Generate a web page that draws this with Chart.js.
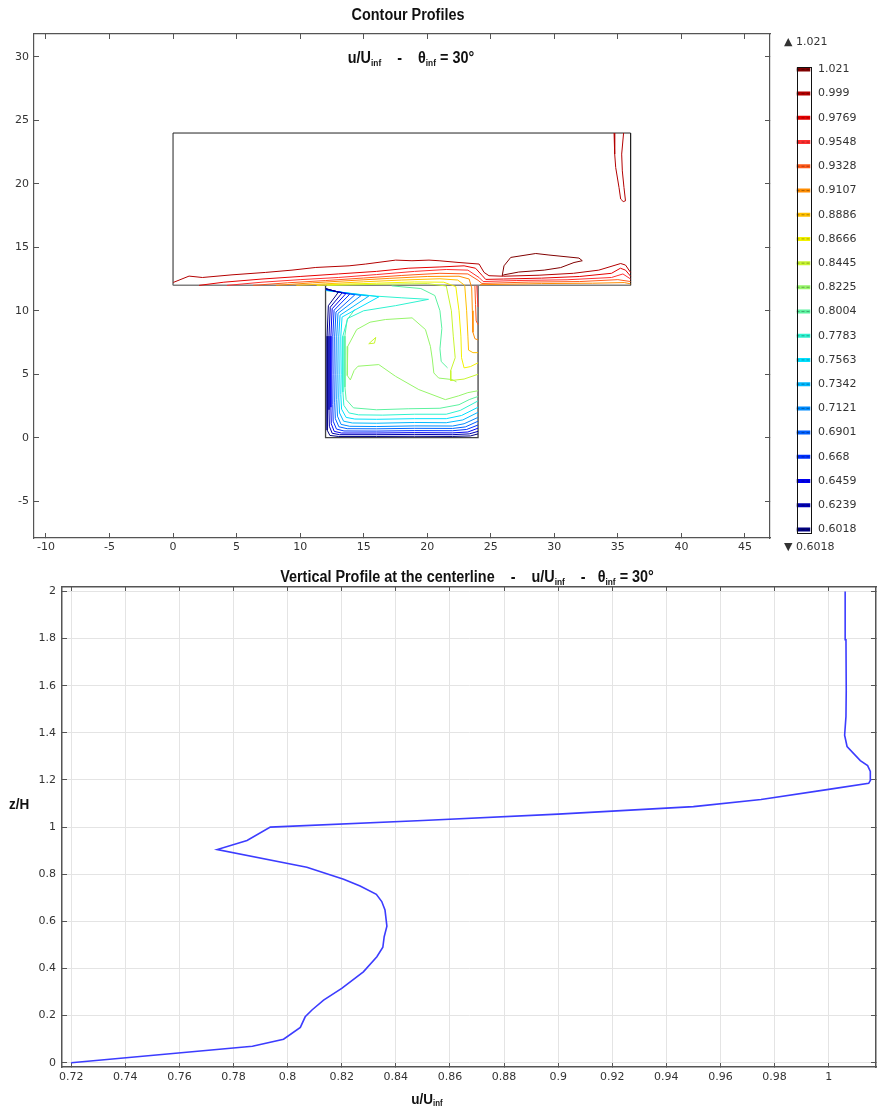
<!DOCTYPE html>
<html>
<head>
<meta charset="utf-8">
<script src="https://cdn.jsdelivr.net/npm/chart.js@4.4.1/dist/chart.umd.min.js"></script>
<style>
  html, body { margin: 0; padding: 0; background: #fff; }
  #page { position: relative; width: 877px; height: 1108px; overflow: hidden; background: #fff; }
  canvas { position: absolute; }
  .ttl { position: absolute; white-space: nowrap; color: #111; font-family: "Liberation Sans", Arial, sans-serif;
         font-weight: bold; line-height: 1; transform: translate(-50%, -50%) scaleX(0.9); }
  .ttl sub { font-size: 58%; vertical-align: baseline; position: relative; top: 0.28em; }
  .cb { position: absolute; white-space: nowrap; font-family: "DejaVu Sans", sans-serif; font-size: 11px;
        color: #333; line-height: 1; transform: translateY(-50%); }
</style>
</head>
<body>
<div id="page">
  <canvas id="contour" width="775" height="560" style="left:0;top:0"></canvas>
  <canvas id="legend" width="101" height="530" style="left:776px;top:30px"></canvas>
  <canvas id="profile" width="877" height="548" style="left:0;top:560px"></canvas>

  <div class="ttl" style="left:408px;top:15px;font-size:16px">Contour Profiles</div>
  <div class="ttl" style="left:411px;top:58px;font-size:16px">u/U<sub>inf</sub>&nbsp;&nbsp;&nbsp;&nbsp;-&nbsp;&nbsp;&nbsp;&nbsp;θ<sub>inf</sub> = 30°</div>
  <div class="cb" style="left:784px;top:41px">▲ 1.021</div>
  <div class="cb" style="left:784px;top:546px">▼ 0.6018</div>
  <div class="ttl" style="left:467px;top:577px;font-size:16px">Vertical Profile at the centerline&nbsp;&nbsp;&nbsp;&nbsp;-&nbsp;&nbsp;&nbsp;&nbsp;u/U<sub>inf</sub>&nbsp;&nbsp;&nbsp;&nbsp;-&nbsp;&nbsp;&nbsp;θ<sub>inf</sub> = 30°</div>
  <div class="ttl" style="left:19px;top:803px;font-size:15px">z/H</div>
  <div class="ttl" style="left:427px;top:1098px;font-size:15px">u/U<sub>inf</sub></div>
</div>

<script>
// ---------- contour levels (colour bar) ----------
const levelValues = [1.021, 0.999, 0.9769, 0.9548, 0.9328, 0.9107, 0.8886, 0.8666, 0.8445, 0.8225,
                     0.8004, 0.7783, 0.7563, 0.7342, 0.7121, 0.6901, 0.668, 0.6459, 0.6239, 0.6018];
const levelLabels = ['1.021', '0.999', '0.9769', '0.9548', '0.9328', '0.9107', '0.8886', '0.8666', '0.8445', '0.8225',
                     '0.8004', '0.7783', '0.7563', '0.7342', '0.7121', '0.6901', '0.668', '0.6459', '0.6239', '0.6018'];

// ---------- contour plot axes ----------
const xTicks = [-10, -5, 0, 5, 10, 15, 20, 25, 30, 35, 40, 45];
const xTickLabels = ['-10', '-5', '0', '5', '10', '15', '20', '25', '30', '35', '40', '45'];
const yTicks = [-5, 0, 5, 10, 15, 20, 25, 30];
const yTickLabels = ['-5', '0', '5', '10', '15', '20', '25', '30'];

// ---------- domain geometry (x, y) ----------
const upperBlock = [[0, 12], [0, 24], [36, 24], [36, 12]];
const cavityWalls = [[12, 12], [12, 0], [24, 0], [24, 12]];
const openingLine = [[0, 12], [36, 12]];

// ---------- contour lines above the cavity (x, y) ----------
const upTop999 = [[0.02,12.23],[1.26,12.73],[2.31,12.62],[4.64,12.83],[7.29,13.02],[9.36,13.2],[11.23,13.41],[13.85,13.54],
  [15.16,13.68],[17.52,13.99],[18.8,13.94],[20.14,13.99],[20.93,13.94],[22.5,13.8],[24.08,13.68],[24.47,13.02],[24.86,12.76],
  [26.0,12.72],[28.8,12.8],[31.5,12.95],[33.5,13.2],[35.22,13.72],[35.6,13.6],[36.0,13.02]];
const up9769 = [[2.05,12.0],[4.0,12.25],[7.0,12.5],[10,12.7],[13,12.9],[16,13.1],[18.5,13.35],[21,13.45],[22.9,13.54],
  [23.8,13.35],[24.3,12.8],[24.6,12.47],[26,12.5],[29,12.57],[32,12.7],[34.5,12.95],[35.2,13.35],[35.6,13.2],[36,12.72]];
const up9548 = [[4.25,12.0],[7,12.25],[10,12.45],[13,12.62],[16,12.85],[19,13.1],[21.5,13.25],[23.2,13.2],[24.1,12.6],
  [24.4,12.3],[27,12.38],[31,12.44],[34.5,12.62],[35.4,12.9],[36,12.5]];
const up9328 = [[6.3,12.0],[9,12.2],[12,12.38],[15,12.58],[18,12.78],[21,12.95],[23.2,12.9],[24.0,12.4],[24.3,12.15],
  [28,12.26],[32,12.3],[35,12.45],[36,12.3]];
const up9107 = [[8.1,12.0],[11,12.2],[14,12.38],[17,12.55],[20,12.7],[22.5,12.72],[23.3,12.5],[23.5,11.8],[23.55,10.0],
  [23.6,8.3],[23.75,7.8],[24,7.7]];
const up9107b = [[24.15,12.05],[29,12.14],[33,12.17],[35.5,12.22],[36,12.12]];
const up8886 = [[9.7,12.0],[12,12.12],[15,12.28],[18,12.42],[21,12.52],[22.4,12.42],[22.95,12.0],[23.1,10.0],[23.2,8.0],
  [23.25,6.9],[23.6,6.7],[24,6.7]];
const up8666 = [[11.3,12.0],[13,12.08],[16,12.17],[19,12.27],[21.3,12.25],[22.25,11.9],[22.5,10.0],[22.65,8.0],[22.7,6.3],
  [22.9,5.5],[23.4,5.6],[24,5.9]];
const up8445 = [[12.1,11.99],[14,12.04],[17,12.1],[20,12.14],[21.5,11.95],[21.9,10.0],[22.05,8.0],[22.2,6.3],[21.85,5.3],
  [21.85,4.5],[22.9,4.62],[24,5.0]];
const eddyLoop = [[25.9,12.76],[26.04,13.54],[26.57,14.2],[28.54,14.51],[29.58,14.39],[31.94,14.15],[32.2,13.94],[31.55,13.8],
  [30.5,13.4],[29.2,13.2],[27.2,13.05],[26.04,12.83],[25.9,12.76]];
const rightWallLoop = [[34.7,24.0],[34.75,22.34],[34.83,21.28],[35.09,19.71],[35.22,18.8],[35.42,18.6],[35.6,18.66],
  [35.48,19.71],[35.35,21.02],[35.3,22.34],[35.45,24.0]];

// ---------- contour lines inside the cavity (x, y) ----------
const cav6018 = [[12.03,11.75],[13.0,11.45],[12.22,10.4],[12.12,8.0],[12.12,5.0],[12.12,2.0],[12.14,0.6],[12.34,0.18],
  [13.0,0.1],[16.0,0.1],[19.0,0.11],[22.0,0.1],[23.4,0.14],[24.0,0.3]];
const cav6239 = [[12.03,11.73],[13.3,11.4],[12.37,10.28],[12.27,8.0],[12.27,5.0],[12.27,2.2],[12.3,0.9],[12.52,0.35],
  [13.1,0.24],[16.0,0.24],[19.0,0.26],[22.0,0.24],[23.3,0.3],[24.0,0.5]];
const cav6459 = [[12.03,11.71],[13.6,11.35],[12.52,10.16],[12.42,8.0],[12.42,5.0],[12.42,2.4],[12.45,1.1],[12.68,0.5],
  [13.25,0.37],[16.0,0.37],[19.0,0.4],[22.0,0.38],[23.2,0.45],[24.0,0.75]];
const cav668 = [[12.03,11.69],[13.9,11.3],[12.67,10.04],[12.57,8.0],[12.59,5.0],[12.57,2.6],[12.6,1.3],[12.86,0.68],
  [13.45,0.53],[16.0,0.52],[19.0,0.56],[22.0,0.55],[23.1,0.65],[24.0,1.0]];
const cav6901 = [[12.03,11.67],[14.3,11.25],[12.82,9.9],[12.72,8.0],[12.75,5.0],[12.72,2.8],[12.77,1.5],[13.05,0.86],
  [13.7,0.71],[16.0,0.7],[19.0,0.74],[22.0,0.73],[23.0,0.85],[24.0,1.3]];
const cav7121 = [[12.03,11.65],[14.8,11.2],[12.98,9.8],[12.88,8.0],[12.91,5.0],[12.88,3.0],[12.94,1.7],[13.22,1.05],
  [13.9,0.9],[16.0,0.88],[19.0,0.93],[22.0,0.92],[22.9,1.1],[24.0,1.6]];
const cav7342 = [[12.03,11.63],[15.4,11.15],[13.14,9.65],[13.04,8.0],[13.07,5.0],[13.04,3.2],[13.1,1.95],[13.42,1.3],
  [14.1,1.16],[16.0,1.14],[19.0,1.2],[21.5,1.18],[22.8,1.4],[24.0,2.0]];
const cav7563 = [[12.03,11.61],[16.2,11.1],[13.3,9.5],[13.2,8.0],[13.23,5.0],[13.2,3.4],[13.26,2.25],[13.62,1.6],
  [14.3,1.47],[16.0,1.45],[19.0,1.5],[21.5,1.5],[22.7,1.75],[24.0,2.4]];
const cav7783 = [[12.03,11.59],[14.0,11.35],[16.0,11.15],[18.0,11.02],[20.1,10.9],[17.5,10.4],[15.0,10.0],[13.75,9.4],
  [13.36,8.0],[13.37,5.0],[13.36,3.6],[13.44,2.55],[13.85,1.95],[14.6,1.8],[16.5,1.78],[19.0,1.85],[21.5,1.85],[22.6,2.15],[24.0,2.9]];
const cav8004 = [[14.3,10.1],[13.7,9.3],[13.52,8.0],[13.53,6.0],[13.52,4.0],[13.62,3.0],[14.2,2.35],[16,2.2],[18.5,2.28],
  [21,2.32],[22.5,2.6],[23.3,3.0],[24,3.25]];
const cav8004b = [[17.2,11.96],[19.5,11.75],[20.6,11.2],[21.0,10.0],[21.15,8.6],[21.0,7.0],[21.1,6.0],[21.6,5.5]];
const cav8225 = [[22.3,4.4],[21.96,4.58],[20.9,4.7],[20.52,5.1],[20.4,6.2],[20.25,7.2],[19.86,8.52],[18.81,9.44],[16.72,9.31],
  [15.5,9.1],[14.45,8.52],[13.75,7.2],[13.7,5.8],[13.72,4.9],[13.95,4.55],[14.25,5.3],[14.55,5.63],[16.19,5.76],[17.5,4.84],
  [19.34,3.79],[21.43,3.0],[22.48,3.3],[23.2,3.55],[24,3.7]];
const cav8445 = [[15.4,7.4],[15.95,7.9],[15.85,7.45],[15.4,7.4]];
const cav9328 = [[23.75,11.97],[23.8,10.5],[23.85,9.2],[24,8.9]];
const cav9548 = [[23.9,11.98],[23.95,11.0],[24,10.3]];

// line -> level value
const contourLines = [
  [upTop999, 0.999], [up9769, 0.9769], [up9548, 0.9548], [up9328, 0.9328], [up9107, 0.9107], [up9107b, 0.9107],
  [up8886, 0.8886], [up8666, 0.8666], [up8445, 0.8445], [eddyLoop, 1.021], [rightWallLoop, 0.999],
  [cav6018, 0.6018], [cav6239, 0.6239], [cav6459, 0.6459], [cav668, 0.668], [cav6901, 0.6901], [cav7121, 0.7121],
  [cav7342, 0.7342], [cav7563, 0.7563], [cav7783, 0.7783], [cav8004, 0.8004], [cav8004b, 0.8004], [cav8225, 0.8225],
  [cav8445, 0.8445], [cav9328, 0.9328], [cav9548, 0.9548]
];

// ---------- centreline profile ----------
const profileU = [0.72, 0.787, 0.7985, 0.8047, 0.8065, 0.809, 0.8133, 0.820, 0.828, 0.833, 0.8352, 0.8357, 0.8367, 0.836,
  0.8348, 0.8328, 0.8268, 0.8207, 0.8071, 0.774, 0.785, 0.7936, 0.85, 0.9, 0.95, 0.975, 1.0, 1.0148, 1.0155, 1.0154,
  1.0144, 1.0117, 1.0068, 1.0059, 1.0064, 1.0065, 1.0064, 1.0061];
const profileZ = [0, 0.07, 0.1, 0.15, 0.195, 0.224, 0.266, 0.316, 0.386, 0.45, 0.49, 0.535, 0.58, 0.648, 0.684, 0.715,
  0.75, 0.779, 0.83, 0.905, 0.943, 1.0, 1.028, 1.055, 1.087, 1.117, 1.16, 1.186, 1.2, 1.236, 1.261, 1.282, 1.342, 1.39,
  1.47, 1.58, 1.795, 2.0];
const uTicks = [0.72, 0.74, 0.76, 0.78, 0.8, 0.82, 0.84, 0.86, 0.88, 0.9, 0.92, 0.94, 0.96, 0.98, 1];
const uTickLabels = ['0.72', '0.74', '0.76', '0.78', '0.8', '0.82', '0.84', '0.86', '0.88', '0.9', '0.92', '0.94', '0.96', '0.98', '1'];
const zTicks = [0, 0.2, 0.4, 0.6, 0.8, 1, 1.2, 1.4, 1.6, 1.8, 2];
const zTickLabels = ['0', '0.2', '0.4', '0.6', '0.8', '1', '1.2', '1.4', '1.6', '1.8', '2'];

// ---------- styling ----------
const levelColors = ['#800000', '#b30000', '#e60000', '#ff3030', '#ff5a1a', '#ff8c00', '#ffbf00', '#f2f200', '#c8f530', '#96f56a',
                     '#5cf2a0', '#2ef2d0', '#00e0ff', '#00b8ff', '#008cff', '#0060ff', '#0030ff', '#0000f0', '#0000b3', '#000080'];
const colorOf = v => levelColors[levelValues.indexOf(v)];
const tickFont = { family: 'DejaVu Sans', size: 11 };
const tickColor = '#333';
const frameColor = '#555';
const toPts = arr => arr.map(p => ({ x: p[0], y: p[1] }));
const fixedTicks = (vals) => (scale) => { scale.ticks = vals.map(v => ({ value: v })); };

function frameAxis(position, vals, labels, size, opts = {}) {
  return Object.assign({
    type: 'linear', position,
    afterBuildTicks: fixedTicks(vals),
    afterFit: (s) => { if (position === 'left' || position === 'right') s.width = size; else s.height = size; },
    ticks: {
      display: !!labels, autoSkip: false, maxRotation: 0, font: tickFont, color: tickColor,
      padding: opts.padding || 0,
      callback: (v, i) => labels ? labels[i] : ''
    },
    grid: { drawOnChartArea: !!opts.gridColor, color: opts.gridColor || frameColor, tickColor: frameColor,
            tickLength: opts.tickLength || -5, tickWidth: 1, lineWidth: 1 },
    border: { display: true, color: frameColor, width: opts.borderWidth || 1.2 }
  }, opts.range || {});
}

// ---------- contour chart ----------
const contourSets = contourLines.map(([pts, lvl]) => ({
  data: toPts(pts), showLine: true, borderColor: colorOf(lvl), borderWidth: 1, pointRadius: 0, tension: 0, fill: false
}));
contourSets.push(
  { data: toPts(openingLine), showLine: true, borderColor: '#808080', borderWidth: 1.5, pointRadius: 0 },
  { data: toPts(cavityWalls), showLine: true, borderColor: '#444', borderWidth: 1.3, pointRadius: 0 },
  { data: toPts(upperBlock), showLine: true, borderColor: '#222', borderWidth: 1, pointRadius: 0 }
);

const xRange = { min: -10.94, max: 46.97 };
const yRange = { min: -7.9, max: 31.8 };
new Chart(document.getElementById('contour'), {
  type: 'scatter',
  data: { datasets: contourSets },
  options: {
    responsive: false, animation: false, events: [],
    layout: { padding: 0 },
    plugins: { legend: { display: false }, tooltip: { enabled: false } },
    scales: {
      x: frameAxis('bottom', xTicks, xTickLabels, 22, { padding: 8, range: xRange }),
      x2: frameAxis('top', xTicks, null, 34, { range: xRange }),
      y: frameAxis('left', yTicks, yTickLabels, 34, { padding: 10, range: yRange }),
      y2: frameAxis('right', yTicks, null, 5, { range: yRange })
    }
  }
});

// ---------- colour bar ----------
const barFrame = {
  id: 'barFrame',
  afterDatasetsDraw(chart) {
    const a = chart.chartArea, c = chart.ctx;
    c.save();
    c.strokeStyle = '#111';
    c.lineWidth = 1;
    c.strokeRect(Math.round(a.left) + 0.5, Math.round(a.top) + 0.5, Math.round(a.right - a.left), Math.round(a.bottom - a.top));
    c.restore();
  }
};
const swatchSets = [];
levelValues.forEach(v => {
  // thin dashed core over each coloured swatch
  swatchSets.push({
    data: [{ x: 0, y: v }, { x: 1, y: v }], showLine: true, borderColor: 'rgba(0,0,0,0.3)',
    borderWidth: 1, borderDash: [3, 2], pointRadius: 0
  });
  swatchSets.push({
    data: [{ x: 0, y: v }, { x: 1, y: v }], showLine: true, borderColor: colorOf(v),
    borderWidth: 4, pointRadius: 0, borderCapStyle: 'butt'
  });
});
new Chart(document.getElementById('legend'), {
  type: 'scatter',
  data: { datasets: swatchSets },
  options: {
    responsive: false, animation: false, events: [],
    layout: { padding: { left: 20.5, top: 36.5, bottom: 28, right: 0 } },
    plugins: { legend: { display: false }, tooltip: { enabled: false } },
    scales: {
      x: { type: 'linear', display: false, min: 0, max: 1 },
      y: {
        type: 'linear', position: 'right', min: 0.5995, max: 1.0237,
        afterBuildTicks: fixedTicks(levelValues),
        afterFit: (s) => { s.width = 66.5; },
        ticks: { autoSkip: false, font: tickFont, color: tickColor, padding: 7.5, callback: (v, i) => levelLabels[i] },
        grid: { display: false, drawTicks: false },
        border: { display: false }
      }
    }
  },
  plugins: [barFrame]
});

// ---------- vertical profile chart ----------
const uRange = { min: 0.7166, max: 1.0175 };
const zRange = { min: -0.018, max: 2.019 };
new Chart(document.getElementById('profile'), {
  type: 'scatter',
  data: {
    datasets: [{
      data: profileU.map((u, i) => ({ x: u, y: profileZ[i] })),
      showLine: true, borderColor: '#3c3cff', borderWidth: 1.6, pointRadius: 0, tension: 0, fill: false
    }]
  },
  options: {
    responsive: false, animation: false, events: [],
    layout: { padding: 0 },
    plugins: { legend: { display: false }, tooltip: { enabled: false } },
    scales: {
      x: frameAxis('bottom', uTicks, uTickLabels, 41, { padding: 9, gridColor: '#e4e4e4', range: uRange, borderWidth: 1.5 }),
      x2: frameAxis('top', uTicks, null, 27, { range: uRange, borderWidth: 1.5 }),
      y: frameAxis('left', zTicks, zTickLabels, 62, { padding: 11, gridColor: '#e4e4e4', range: zRange, borderWidth: 1.5 }),
      y2: frameAxis('right', zTicks, null, 1, { range: zRange, borderWidth: 1.5 })
    }
  }
});
</script>
</body>
</html>
